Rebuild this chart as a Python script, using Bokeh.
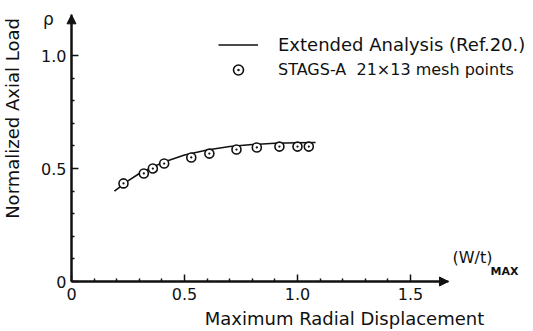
import math
from bokeh.plotting import figure
from bokeh.models import (FixedTicker, Arrow, NormalHead, Label, Legend, LegendItem, Range1d)
from bokeh.embed import file_html
from bokeh.resources import INLINE

# Data
stags_x = [0.23, 0.32, 0.36, 0.41, 0.53, 0.61, 0.73, 0.82, 0.92, 1.00, 1.05]
stags_y = [0.434, 0.478, 0.500, 0.522, 0.549, 0.566, 0.584, 0.593, 0.597, 0.597, 0.597]
curve_x = [0.19, 0.25, 0.30, 0.40, 0.50, 0.60, 0.70, 0.80, 0.90, 1.00, 1.08]
curve_y = [0.400, 0.445, 0.478, 0.525, 0.560, 0.582, 0.597, 0.606, 0.612, 0.614, 0.615]

x_major = [0, 0.5, 1.0, 1.5]
x_minor = [0.1, 0.2, 0.3, 0.4, 0.6, 0.7, 0.8, 0.9, 1.1, 1.2, 1.3, 1.4]
y_major = [0, 0.5, 1.0]
y_minor = [0.1, 0.2, 0.3, 0.4, 0.6, 0.7, 0.8, 0.9]
x_labels = {0: "0", 0.5: "0.5", 1.0: "1.0", 1.5: "1.5"}
y_labels = {0: "0", 0.5: "0.5", 1.0: "1.0"}

FONT = "DejaVu Sans"
INK = "#111111"

W, H = 533, 331
OX, OY, S = 71, 281, 226.0   # page pixel of the origin, pixels per unit

p = figure(width=W, height=H, output_backend="svg", toolbar_location=None,
           x_range=Range1d(-OX / S, (W - OX) / S), y_range=Range1d((OY - H) / S, OY / S),
           min_border_left=0, min_border_right=0, min_border_top=0, min_border_bottom=0)
p.outline_line_color = None
p.grid.visible = False
p.background_fill_color = "white"
p.border_fill_color = "white"

for ax, maj, mnr, labs, end in ((p.xaxis[0], x_major, x_minor, x_labels, 1.668),
                                (p.yaxis[0], y_major, y_minor, y_labels, 1.18)):
    ax.fixed_location = 0
    ax.ticker = FixedTicker(ticks=maj, minor_ticks=mnr)
    ax.major_label_overrides = labs
    ax.bounds = (0, end)
    ax.axis_line_width = 2
    ax.axis_line_color = INK
    ax.major_tick_in = 7
    ax.major_tick_out = 0
    ax.minor_tick_in = 3
    ax.minor_tick_out = 0
    ax.major_tick_line_width = 1.5
    ax.minor_tick_line_width = 1.5
    ax.major_tick_line_color = INK
    ax.minor_tick_line_color = INK
    ax.major_label_text_font = FONT
    ax.major_label_text_font_size = "16px"
    ax.major_label_text_color = INK
p.xaxis.major_label_standoff = 6
p.yaxis.major_label_standoff = 5

# axis arrow heads
p.add_layout(Arrow(x_start=0, y_start=0, x_end=1.668, y_end=0, line_width=2, line_color=INK,
                   end=NormalHead(size=9, fill_color=INK, line_color=INK)))
p.add_layout(Arrow(x_start=0, y_start=0, x_end=0, y_end=1.18, line_width=2, line_color=INK,
                   end=NormalHead(size=9, fill_color=INK, line_color=INK)))

ln = p.line(curve_x, curve_y, line_width=1.6, line_color=INK)
sc = p.scatter(stags_x, stags_y, marker="circle_dot", size=9, line_width=1.6,
               line_color=INK, fill_color="white")

common = dict(glyph_width=40, glyph_height=25, label_height=25, label_standoff=20,
              spacing=0, padding=0, margin=0, border_line_color=None,
              background_fill_alpha=0, label_text_font=FONT, label_text_color=INK)
p.add_layout(Legend(items=[LegendItem(label="Extended Analysis (Ref.20.)", renderers=[ln])],
                    location=(218, H - 57), label_text_font_size="18px", **common))
p.add_layout(Legend(items=[LegendItem(label="STAGS-A  21×13 mesh points", renderers=[sc])],
                    location=(218, H - 82), label_text_font_size="16px", **common))

def px2x(px):
    return (px - OX) / S

def py2y(py):
    return (OY - py) / S

texts = [
    ("ρ", 48, 18, 0, "17px", "normal"),
    ("Normalized Axial Load", 12, 118, math.pi / 2, "18px", "normal"),
    ("Maximum Radial Displacement", 344, 318, 0, "18px", "normal"),
    ("(W/t)", 472, 257, 0, "16px", "normal"),
    ("MAX", 504, 271, 0, "11px", "bold"),
]
for t, px, py, ang, fs, fw in texts:
    p.add_layout(Label(x=px2x(px), y=py2y(py), text=t, angle=ang, text_align="center",
                       text_baseline="middle", text_font=FONT, text_font_size=fs,
                       text_font_style=fw, text_color=INK))

open("out.html", "w").write(file_html(p, INLINE))
